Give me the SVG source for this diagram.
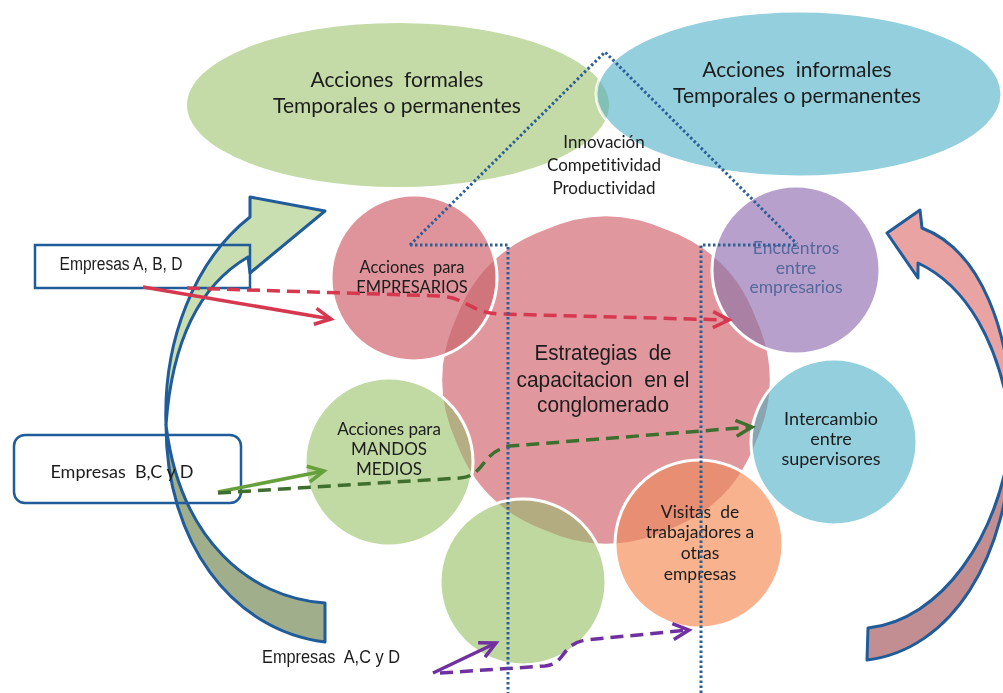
<svg xmlns="http://www.w3.org/2000/svg" width="1003" height="693" viewBox="0 0 1003 693">
<defs>
<style>
.cal{font-family:Lato,"Noto Sans","Liberation Sans",sans-serif;fill:#1c1c1c;text-anchor:middle;font-variant-ligatures:none;white-space:pre}
.nar{font-family:"Liberation Sans",Arial,sans-serif;fill:#1c1c1c;text-anchor:middle;white-space:pre}
.circ{stroke:#fff;stroke-width:3}
.ov{mix-blend-mode:multiply;opacity:.5}
.dot{fill:none;stroke:#2d5e96;stroke-width:3;stroke-dasharray:2.5 2.5}
.big{stroke:#1f5c99;stroke-width:3;stroke-linejoin:round}
.box{fill:none;stroke:#1f5c99;stroke-width:2.5}
.dash{fill:none;stroke-width:3.5;stroke-dasharray:13 7}
.sol{fill:none;stroke-width:3.5}
</style>
<path id="blob" fill="#e0989e" d="M755.7,318 Q784,380 755.7,442 Q731.9,505.9 668,529.7 Q606,558 544,529.7 Q480.1,505.9 456.3,442 Q428,380 456.3,318 Q480.1,254.1 544,230.3 Q606,202 668,230.3 Q731.9,254.1 755.7,318 Z"/>
<ellipse id="ellG" cx="398" cy="105" rx="211" ry="82" fill="#c4dba8"/>
<clipPath id="cBlue"><ellipse cx="799" cy="94" rx="203" ry="83"/></clipPath>
<clipPath id="cEmp"><circle cx="414" cy="278" r="83"/></clipPath>
<clipPath id="cMan"><circle cx="389" cy="462" r="84"/></clipPath>
<clipPath id="cBot"><circle cx="523" cy="582" r="83"/></clipPath>
<clipPath id="cVis"><circle cx="699" cy="544" r="84"/></clipPath>
<clipPath id="cEnc"><circle cx="796" cy="270" r="84"/></clipPath>
<clipPath id="cInt"><circle cx="834" cy="442" r="83"/></clipPath>
<marker id="mRed" markerUnits="userSpaceOnUse" viewBox="-20 -11 24 22" markerWidth="24" markerHeight="22" refX="0" refY="0" orient="auto"><path d="M-16,-8 L0,0 L-16,8" fill="none" stroke="#d5384f" stroke-width="3.5"/></marker>
<marker id="mGreen" markerUnits="userSpaceOnUse" viewBox="-20 -11 24 22" markerWidth="24" markerHeight="22" refX="0" refY="0" orient="auto"><path d="M-16,-8 L0,0 L-16,8" fill="none" stroke="#66a03c" stroke-width="3.5"/></marker>
<marker id="mDGreen" markerUnits="userSpaceOnUse" viewBox="-20 -11 24 22" markerWidth="24" markerHeight="22" refX="0" refY="0" orient="auto"><path d="M-16,-8 L0,0 L-16,8" fill="none" stroke="#3f6f2e" stroke-width="3.5"/></marker>
<marker id="mPurple" markerUnits="userSpaceOnUse" viewBox="-20 -11 24 22" markerWidth="24" markerHeight="22" refX="0" refY="0" orient="auto"><path d="M-16,-8 L0,0 L-16,8" fill="none" stroke="#7030a0" stroke-width="3.5"/></marker>
</defs>

<g id="node-formales">
<use href="#ellG"/>
<text class="cal" font-size="21" x="397" y="87">Acciones  formales</text>
<text class="cal" font-size="21" x="397" y="113">Temporales o permanentes</text>
</g>

<g id="node-informales">
<ellipse cx="799" cy="94" rx="203" ry="83" fill="#93cfdd" stroke="#fff" stroke-width="3"/>
<use href="#ellG" class="ov" clip-path="url(#cBlue)"/>
<text class="cal" font-size="21" x="797" y="77">Acciones  informales</text>
<text class="cal" font-size="21" x="797" y="103">Temporales o permanentes</text>
</g>

<g id="node-innovacion">
<text class="cal" font-size="17" x="604" y="148">Innovación</text>
<text class="cal" font-size="17" x="604" y="171">Competitividad</text>
<text class="cal" font-size="17" x="604" y="194">Productividad</text>
</g>

<g id="node-estrategias">
<use href="#blob"/>
</g>

<g id="node-empresarios">
<circle cx="414" cy="278" r="83" fill="#df939b"/>
<use href="#blob" class="ov" clip-path="url(#cEmp)"/>
<circle cx="414" cy="278" r="83" fill="none" class="circ"/>
<text class="cal" font-size="16.5" x="412" y="273">Acciones  para</text>
<text class="cal" font-size="16.5" x="412" y="293">EMPRESARIOS</text>
</g>

<g id="node-mandos">
<circle cx="389" cy="462" r="84" fill="#c1d9a3"/>
<use href="#blob" class="ov" clip-path="url(#cMan)"/>
<circle cx="389" cy="462" r="84" fill="none" class="circ"/>
<text class="cal" font-size="17" x="389" y="435">Acciones para</text>
<text class="cal" font-size="17" x="389" y="455">MANDOS</text>
<text class="cal" font-size="17" x="389" y="475">MEDIOS</text>
</g>

<g id="node-green-bottom">
<circle cx="523" cy="582" r="83" fill="#bfd8a0"/>
<use href="#blob" class="ov" clip-path="url(#cBot)"/>
<circle cx="523" cy="582" r="83" fill="none" class="circ"/>
</g>

<g id="node-visitas">
<circle cx="699" cy="544" r="84" fill="#f8b28e"/>
<use href="#blob" class="ov" clip-path="url(#cVis)"/>
<circle cx="699" cy="544" r="84" fill="none" class="circ"/>
<text class="cal" font-size="17.5" x="700" y="518">Visitas  de</text>
<text class="cal" font-size="17.5" x="700" y="538">trabajadores a</text>
<text class="cal" font-size="17.5" x="700" y="559">otras</text>
<text class="cal" font-size="17.5" x="700" y="580">empresas</text>
</g>

<g id="node-encuentros">
<circle cx="796" cy="270" r="84" fill="#b7a1cc"/>
<use href="#blob" class="ov" clip-path="url(#cEnc)"/>
<circle cx="796" cy="270" r="84" fill="none" class="circ"/>
<text class="cal" font-size="17.5" x="796" y="254" style="fill:#56689c">Encuentros</text>
<text class="cal" font-size="17.5" x="796" y="274" style="fill:#56689c">entre</text>
<text class="cal" font-size="17.5" x="796" y="293" style="fill:#56689c">empresarios</text>
</g>

<g id="node-intercambio">
<circle cx="834" cy="442" r="83" fill="#93cfdd"/>
<use href="#blob" class="ov" clip-path="url(#cInt)"/>
<circle cx="834" cy="442" r="83" fill="none" class="circ"/>
<text class="cal" font-size="18" x="831" y="425">Intercambio</text>
<text class="cal" font-size="18" x="831" y="445">entre</text>
<text class="cal" font-size="18" x="831" y="465">supervisores</text>
</g>

<g id="node-estrategias-label">
<text class="nar" font-size="21.5" x="603" y="360" textLength="137" lengthAdjust="spacingAndGlyphs">Estrategias  de</text>
<text class="nar" font-size="21.5" x="603" y="387" textLength="173" lengthAdjust="spacingAndGlyphs">capacitacion  en el</text>
<text class="nar" font-size="21.5" x="603" y="412" textLength="132" lengthAdjust="spacingAndGlyphs">conglomerado</text>
</g>

<g id="arrow-left">
<path class="big" fill="#c9deb1" d="M166,425 C163,340 195,260 250,217 L250,197 L325,211 L250,273 L248,257 C200,285 172,340 166,425 Z"/>
<path class="big" fill="#a0ae8b" d="M166,425 C166,540 230,630 325,642 L325,603 C250,598 180,540 166,425 Z"/>
</g>

<g id="arrow-right">
<path class="big" fill="#e9a3a2" d="M887,233 L920,210 L922,228 C980,250 1012,330 1012,430 C1000,340 965,285 918,263 L918,278 Z"/>
<path class="big" fill="#c28e92" d="M1012,430 C1010,560 950,650 867,660 L868,628 C940,620 1000,540 1012,430 Z"/>
</g>

<g id="node-box1">
<rect class="box" x="35" y="245" width="215" height="43"/>
<text class="nar" font-size="18" x="121" y="270" textLength="123" lengthAdjust="spacingAndGlyphs">Empresas A, B, D</text>
</g>

<g id="node-box2">
<rect class="box" x="14" y="435" width="227" height="68" rx="11"/>
<text class="cal" font-size="18" x="122" y="478">Empresas  B,C y D</text>
</g>

<g id="node-label3">
<text class="nar" font-size="19" x="331" y="663" textLength="138" lengthAdjust="spacingAndGlyphs">Empresas  A,C y D</text>
</g>

<g id="connectors">
<path class="sol" stroke="#d5384f" d="M143,287 L331,319" marker-end="url(#mRed)"/>
<path class="dash" stroke="#d5384f" d="M187,288 L440,296 C468,298 470,313 500,314 L729,320" marker-end="url(#mRed)"/>
<path class="sol" stroke="#66a03c" d="M218,492 L324,471" marker-end="url(#mGreen)"/>
<path class="dash" stroke="#3f6f2e" d="M218,493 L460,478 C486,476 480,452 510,446 L752,427" marker-end="url(#mDGreen)"/>
<path class="sol" stroke="#7030a0" d="M433,673 L496,643" marker-end="url(#mPurple)"/>
<path class="dash" stroke="#7030a0" d="M440,673 L545,666 C566,664 560,645 585,640 L689,630" marker-end="url(#mPurple)"/>
</g>

<g id="dotted-lines">
<path class="dot" d="M410,245 L605,52 L797,244"/>
<path class="dot" d="M410,245 L508,245 L508,693"/>
<path class="dot" d="M701,693 L701,245 L797,245"/>
</g>
</svg>
